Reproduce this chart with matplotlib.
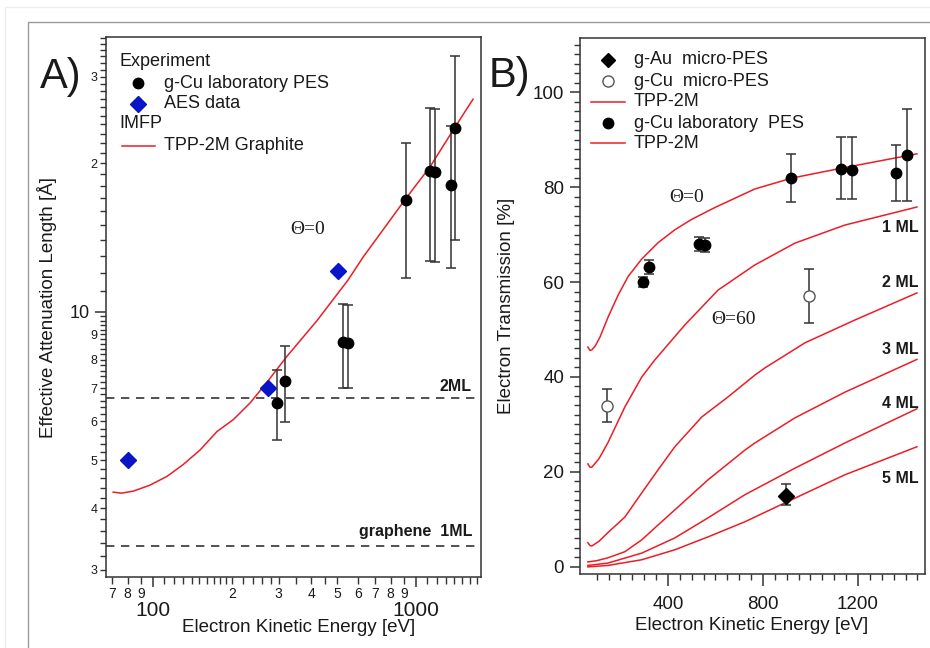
import matplotlib
matplotlib.use('Agg')
import matplotlib.pyplot as plt
import numpy as np
from matplotlib.ticker import FixedLocator, FixedFormatter
from matplotlib.patches import Rectangle

plt.rcParams['font.family'] = ['Liberation Sans', 'DejaVu Sans']

# ---------------- Panel A data ----------------
aes_E = [80, 274, 505]
aes_L = [5.0, 7.0, 12.1]
pes_E = [296, 318, 528, 551, 916, 1131, 1180, 1359, 1407]
pes_L = [6.54, 7.24, 8.70, 8.66, 16.9, 19.3, 19.2, 18.1, 23.6]
pes_L_hi = [7.63, 8.51, 10.38, 10.35, 22.0, 25.9, 25.8, 23.8, 33.1]
pes_L_lo = [5.49, 5.99, 7.0, 7.0, 11.7, 12.7, 12.6, 12.3, 14.0]
tpp_E = [70.5, 76, 84, 97, 113, 130, 151, 175, 202, 234, 271, 323, 420, 471, 551, 628, 916, 1131, 1407, 1647]
tpp_L = [4.31, 4.29, 4.33, 4.45, 4.64, 4.9, 5.25, 5.72, 6.05, 6.54, 7.2, 8.13, 9.6, 10.4, 11.6, 12.9, 17.0, 19.7, 23.7, 27.0]
ml_lines = [3.35, 6.7]

# ---------------- Panel B data ----------------
au_E = [897]
au_T = [15.0]
au_hi = [17.5]
au_lo = [13.1]
cu_micro_E = [143, 994]
cu_micro_T = [33.9, 57.0]
cu_micro_hi = [37.5, 62.8]
cu_micro_lo = [30.5, 51.3]
cu_lab_E = [295, 320, 530, 556, 918, 1128, 1175, 1360, 1406]
cu_lab_T = [60.0, 63.2, 68.0, 67.8, 82.0, 83.8, 83.6, 82.9, 86.7]
cu_lab_hi = [61.0, 64.7, 69.5, 69.3, 87.0, 90.6, 90.6, 88.8, 96.4]
cu_lab_lo = [59.0, 61.7, 66.5, 66.3, 76.8, 77.4, 77.4, 77.1, 77.1]

c1_E = [63, 72, 80, 95, 114, 149, 191, 233, 289, 359, 429, 500, 598, 766, 922, 1133, 1448]
c1_T = [46.3, 45.6, 45.7, 46.6, 48.4, 52.7, 57.3, 61.2, 64.8, 68.3, 71.0, 73.2, 75.7, 79.6, 81.9, 84.0, 87.0]
c2_E = [63, 72, 80, 110, 147, 219, 290, 345, 472, 611, 766, 935, 1145, 1448]
c2_T = [21.7, 21.0, 21.0, 22.8, 26.1, 33.7, 40.0, 43.6, 51.0, 58.3, 63.6, 68.2, 72.0, 75.8]
c3_E = [63, 72, 80, 110, 147, 219, 290, 358, 429, 543, 653, 766, 808, 977, 1187, 1448]
c3_T = [5.1, 4.5, 4.4, 5.4, 7.2, 10.5, 15.6, 20.4, 25.3, 31.6, 35.8, 40.4, 41.9, 47.2, 52.0, 57.7]
c4_E = [63, 100, 147, 219, 290, 358, 429, 568, 724, 766, 935, 1145, 1448]
c4_T = [1.05, 1.3, 1.9, 3.2, 5.7, 8.8, 12.0, 18.3, 24.6, 26.1, 31.4, 36.8, 43.7]
c5_E = [63, 147, 290, 429, 568, 724, 935, 1145, 1448]
c5_T = [0.3, 0.8, 2.9, 6.1, 10.3, 15.2, 20.8, 26.1, 33.3]
c6_E = [63, 147, 290, 429, 568, 724, 893, 1145, 1448]
c6_T = [0.0, 0.3, 1.5, 3.6, 6.3, 9.5, 13.5, 19.4, 25.3]
curves_B = [(c1_E, c1_T), (c2_E, c2_T), (c3_E, c3_T), (c4_E, c4_T), (c5_E, c5_T), (c6_E, c6_T)]
ml_labels = ['1 ML', '2 ML', '3 ML', '4 ML', '5 ML']
ml_label_T = [71.4, 60.0, 45.7, 34.5, 18.7]

# ---------------- figure ----------------
W, H = 930, 648
fig = plt.figure(figsize=(W / 100, H / 100), dpi=100)

def box(l, t, r, b):
    return [l / W, 1 - b / H, (r - l) / W, (b - t) / H]

# outer frames
fig.patches.append(Rectangle((5 / W, -0.05), 1.2, 1 - 7 / H + 0.05, transform=fig.transFigure,
                             fill=False, edgecolor='#ececec', lw=1.0))
fig.patches.append(Rectangle((28 / W, -0.05), 1.2, 1 - 22 / H + 0.05, transform=fig.transFigure,
                             fill=False, edgecolor='#9a9a9a', lw=1.0))

RED = '#ee1c25'
DARK = '#333333'
TXT = '#1a1a1a'

A_PX = (106, 37, 481, 577)
B_PX = (580, 38, 925, 574)
ax1 = fig.add_axes(box(*A_PX))
ax2 = fig.add_axes(box(*B_PX))

def frac(px, x, y):
    l, t, r, b = px
    return ((x - l) / (r - l), (b - y) / (b - t))

for ax in (ax1, ax2):
    for s in ax.spines.values():
        s.set_color(DARK)
        s.set_linewidth(1.1)

# ---------------- Panel A ----------------
ax1.set_xscale('log')
ax1.set_yscale('log')
ax1.set_xlim(66.2, 1766)
ax1.set_ylim(2.90, 36.1)

ax1.plot(tpp_E, tpp_L, color=RED, lw=1.1, zorder=2)
for yv in ml_lines:
    ax1.axhline(yv, color=DARK, lw=1.2, ls=(0, (5, 4)), zorder=1)
ax1.errorbar(pes_E, pes_L,
             yerr=[np.array(pes_L) - np.array(pes_L_lo), np.array(pes_L_hi) - np.array(pes_L)],
             fmt='none', ecolor=DARK, elinewidth=1.1, capsize=3.8, capthick=1.1, zorder=3)
ax1.plot(pes_E, pes_L, 'o', color='black', ms=7.5, zorder=4)
ax1.plot(aes_E, aes_L, 'D', color='#0a14c8', ms=8, zorder=4)

ax1.text(1632, 7.07, '2ML', ha='right', va='center', fontsize=11.5, fontweight='bold', color=TXT)
ax1.text(1632, 3.58, 'graphene  1ML', ha='right', va='center', fontsize=11.5, fontweight='bold', color=TXT)
ax1.text(388, 14.7, 'Θ=0', ha='center', va='center', fontsize=14,
         family=['Liberation Serif', 'DejaVu Serif'], color=TXT)

# ticks panel A
xmaj = [100, 1000]
xmin_lab = [70, 80, 90, 200, 300, 400, 500, 600, 700, 800, 900]
xmin_sub = [110, 120, 130, 140, 150, 160, 170, 180, 190, 220, 240, 260, 280, 350, 450,
            1100, 1200, 1300, 1400, 1500, 1600, 1700]
ax1.xaxis.set_major_locator(FixedLocator(xmaj))
ax1.xaxis.set_major_formatter(FixedFormatter(['100', '1000']))
xm = xmin_lab + xmin_sub
ax1.xaxis.set_minor_locator(FixedLocator(xm))
ax1.xaxis.set_minor_formatter(FixedFormatter([str(v)[0] if v in xmin_lab else '' for v in xm]))
ax1.tick_params(axis='x', which='major', direction='out', length=7.5, width=1.1, color=DARK,
                labelsize=15, pad=9.5, labelcolor=TXT)
ax1.tick_params(axis='x', which='minor', direction='out', length=5, width=1.0, color=DARK,
                labelsize=10, pad=2, labelcolor=TXT)

ymaj = [10]
ymin_lab = [3, 4, 5, 6, 7, 8, 9, 20, 30]
ymin_sub = [round(3 + 0.2 * i, 1) for i in range(1, 35) if abs((3 + 0.2 * i) - round(3 + 0.2 * i)) > 1e-6] \
    + [v for v in range(11, 37) if v not in (20, 30)]
ax1.yaxis.set_major_locator(FixedLocator(ymaj))
ax1.yaxis.set_major_formatter(FixedFormatter(['10']))
ym = ymin_lab + ymin_sub
ax1.yaxis.set_minor_locator(FixedLocator(ym))
ax1.yaxis.set_minor_formatter(FixedFormatter([str(v)[0] if v in ymin_lab else '' for v in ym]))
ax1.tick_params(axis='y', which='major', direction='out', length=8, width=1.1, color=DARK,
                labelsize=13, pad=3.5, labelcolor=TXT)
ax1.tick_params(axis='y', which='minor', direction='out', length=4.5, width=1.0, color=DARK,
                labelsize=9, pad=1.5, labelcolor=TXT)

ax1.set_xlabel('Electron Kinetic Energy [eV]', fontsize=13.5, color=TXT)
ax1.set_ylabel('Effective Attenuation Length [Å]', fontsize=13.5, color=TXT)
ax1.xaxis.label.set_va('center')
ax1.yaxis.label.set_va('center')
ax1.xaxis.set_label_coords(*frac(A_PX, 299, 627))
ax1.yaxis.set_label_coords(*frac(A_PX, 47, 307))

# legend panel A (manual)
T = ax1.transAxes
ax1.text(*frac(A_PX, 119, 62), 'Experiment', transform=T, ha='left', va='center', fontsize=13, color=TXT)
ax1.plot(*frac(A_PX, 138, 83), 'o', color='black', ms=7.5, transform=T, clip_on=False)
ax1.text(*frac(A_PX, 164, 83), 'g-Cu laboratory PES', transform=T, ha='left', va='center', fontsize=13, color=TXT)
ax1.plot(*frac(A_PX, 138, 104), 'D', color='#0a14c8', ms=8, transform=T, clip_on=False)
ax1.text(*frac(A_PX, 164, 104), 'AES data', transform=T, ha='left', va='center', fontsize=13, color=TXT)
ax1.text(*frac(A_PX, 119, 124), 'IMFP', transform=T, ha='left', va='center', fontsize=13, color=TXT)
p0 = frac(A_PX, 122, 146); p1 = frac(A_PX, 155, 146)
ax1.plot([p0[0], p1[0]], [p0[1], p1[1]], color=RED, lw=1.1, transform=T, clip_on=False)
ax1.text(*frac(A_PX, 164, 146), 'TPP-2M Graphite', transform=T, ha='left', va='center', fontsize=13, color=TXT)

# ---------------- Panel B ----------------
ax2.set_xlim(30, 1482)
ax2.set_ylim(-1.5, 111.4)
for E, Tv in curves_B:
    ax2.plot(E, Tv, color=RED, lw=1.1, zorder=2)

ax2.errorbar(cu_lab_E, cu_lab_T,
             yerr=[np.array(cu_lab_T) - np.array(cu_lab_lo), np.array(cu_lab_hi) - np.array(cu_lab_T)],
             fmt='none', ecolor=DARK, elinewidth=1.1, capsize=3.8, capthick=1.1, zorder=3)
ax2.plot(cu_lab_E, cu_lab_T, 'o', color='black', ms=7.5, zorder=4)
ax2.errorbar(cu_micro_E, cu_micro_T,
             yerr=[np.array(cu_micro_T) - np.array(cu_micro_lo), np.array(cu_micro_hi) - np.array(cu_micro_T)],
             fmt='none', ecolor=DARK, elinewidth=1.1, capsize=3.8, capthick=1.1, zorder=3)
ax2.plot(cu_micro_E, cu_micro_T, 'o', mfc='white', mec='#555555', mew=1.0, ms=8, zorder=4)
ax2.errorbar(au_E, au_T,
             yerr=[np.array(au_T) - np.array(au_lo), np.array(au_hi) - np.array(au_T)],
             fmt='none', ecolor=DARK, elinewidth=1.1, capsize=3.8, capthick=1.1, zorder=3)
ax2.plot(au_E, au_T, 'D', color='black', ms=8, zorder=4)

for lab, tv in zip(ml_labels, ml_label_T):
    ax2.text(1455, tv, lab, ha='right', va='center', fontsize=11.5, fontweight='bold', color=TXT)
ax2.text(480, 77.9, 'Θ=0', ha='center', va='center', fontsize=14,
         family=['Liberation Serif', 'DejaVu Serif'], color=TXT)
ax2.text(674, 52.2, 'Θ=60', ha='center', va='center', fontsize=14,
         family=['Liberation Serif', 'DejaVu Serif'], color=TXT)

ax2.xaxis.set_major_locator(FixedLocator([400, 800, 1200]))
ax2.xaxis.set_minor_locator(FixedLocator(list(range(100, 1451, 50))))
ax2.yaxis.set_major_locator(FixedLocator([0, 20, 40, 60, 80, 100]))
ax2.yaxis.set_minor_locator(FixedLocator(list(range(0, 111, 2))))
ax2.tick_params(axis='x', which='major', direction='out', length=8.5, width=1.1, color=DARK,
                labelsize=13.5, pad=7, labelcolor=TXT)
ax2.tick_params(axis='x', which='minor', direction='out', length=4.5, width=1.0, color=DARK)
ax2.tick_params(axis='y', which='major', direction='out', length=7.5, width=1.1, color=DARK,
                labelsize=13.5, pad=4, labelcolor=TXT)
ax2.tick_params(axis='y', which='minor', direction='out', length=4, width=1.0, color=DARK)

ax2.set_xlabel('Electron Kinetic Energy [eV]', fontsize=13.5, color=TXT)
ax2.set_ylabel('Electron Transmission [%]', fontsize=13.5, color=TXT)
ax2.xaxis.label.set_va('center')
ax2.yaxis.label.set_va('center')
ax2.xaxis.set_label_coords(*frac(B_PX, 752, 626))
ax2.yaxis.set_label_coords(*frac(B_PX, 506, 306))

# legend panel B (manual)
T2 = ax2.transAxes
ax2.plot(*frac(B_PX, 608, 60), 'D', color='black', ms=7.5, transform=T2, clip_on=False)
ax2.text(*frac(B_PX, 634, 60), 'g-Au  micro-PES', transform=T2, ha='left', va='center', fontsize=13, color=TXT)
ax2.plot(*frac(B_PX, 608, 81), 'o', mfc='white', mec='#555555', mew=1.0, ms=8, transform=T2, clip_on=False)
ax2.text(*frac(B_PX, 634, 81), 'g-Cu  micro-PES', transform=T2, ha='left', va='center', fontsize=13, color=TXT)
q0 = frac(B_PX, 591, 102); q1 = frac(B_PX, 625, 102)
ax2.plot([q0[0], q1[0]], [q0[1], q1[1]], color=RED, lw=1.1, transform=T2, clip_on=False)
ax2.text(*frac(B_PX, 634, 102), 'TPP-2M', transform=T2, ha='left', va='center', fontsize=13, color=TXT)
ax2.plot(*frac(B_PX, 608, 123), 'o', color='black', ms=7.5, transform=T2, clip_on=False)
ax2.text(*frac(B_PX, 634, 123), 'g-Cu laboratory  PES', transform=T2, ha='left', va='center', fontsize=13, color=TXT)
r0 = frac(B_PX, 591, 143); r1 = frac(B_PX, 625, 143)
ax2.plot([r0[0], r1[0]], [r0[1], r1[1]], color=RED, lw=1.1, transform=T2, clip_on=False)
ax2.text(*frac(B_PX, 634, 143), 'TPP-2M', transform=T2, ha='left', va='center', fontsize=13, color=TXT)

# panel letters
fig.text(61 / W, 1 - 77 / H, 'A)', ha='center', va='center', fontsize=30, color=TXT)
fig.text(509 / W, 1 - 76 / H, 'B)', ha='center', va='center', fontsize=30, color=TXT)

fig.savefig('out.png', dpi=100, facecolor='white')
